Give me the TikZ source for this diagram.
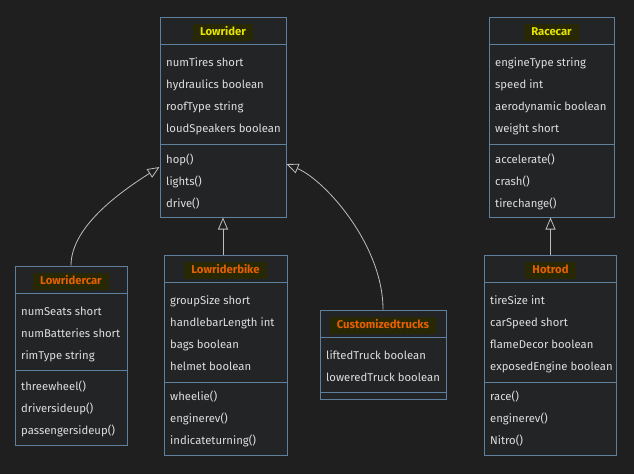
\documentclass[tikz,border=0pt]{standalone}
\usepackage{fontspec}
\setmainfont{Fira Sans}
\usetikzlibrary{arrows.meta}
\definecolor{bgdark}{RGB}{31,31,31}
\definecolor{boxfill}{RGB}{34,36,37}
\definecolor{boxline}{RGB}{94,128,158}
\definecolor{rowtext}{RGB}{222,222,222}
\definecolor{titleyellow}{RGB}{228,228,0}
\definecolor{titleorange}{RGB}{228,96,0}
\definecolor{titlehl}{RGB}{40,40,4}
\definecolor{edgegray}{RGB}{190,190,190}
\tikzset{
  classbox/.style={draw=boxline, fill=boxfill, line width=1pt, inner sep=0pt},
  sepline/.style={draw=boxline, line width=1pt},
  classtitle/.style={fill=titlehl, font=\fontsize{11.3}{13}\selectfont\bfseries, inner xsep=7pt, inner ysep=3pt,
    text height=8.5pt, text depth=2.5pt},
  member/.style={anchor=west, text=rowtext, font=\fontsize{11.3}{13}\selectfont, inner sep=0pt,
    text height=8.5pt, text depth=2.5pt},
  inherit/.style={draw=edgegray, line width=0.8pt, -{Triangle[open, length=12pt, width=10pt]}}
}
\begin{document}
\begin{tikzpicture}[x=1pt, y=-1pt]
  \useasboundingbox (0,0) rectangle (634,474);
  \fill[bgdark] (0,0) rectangle (634,474);
  % class boxes
  \node[classbox, minimum width=126pt, minimum height=200pt] (lowrider) at (223,117) {};
  \node[classbox, minimum width=125pt, minimum height=200pt] (racecar) at (551.5,117) {};
  \node[classbox, minimum width=112pt, minimum height=179pt] (lowridercar) at (71,355.5) {};
  \node[classbox, minimum width=123pt, minimum height=200pt] (lowriderbike) at (225.5,355) {};
  \node[classbox, minimum width=126pt, minimum height=89pt] (customtrucks) at (383,354.5) {};
  \node[classbox, minimum width=132pt, minimum height=200pt] (hotrod) at (550.5,355) {};
  % separators
  \foreach \cls/\ya/\yb in {lowrider/44.5/144.5, racecar/44.5/144.5, lowridercar/293.5/370,
      lowriderbike/282.5/382.5, customtrucks/337.5/392.5, hotrod/282.5/382.5}{
    \draw[sepline] (\cls.west |- 0,\ya) -- (\cls.east |- 0,\ya);
    \draw[sepline] (\cls.west |- 0,\yb) -- (\cls.east |- 0,\yb);
  }
  % titles
  \node[classtitle, text=titleyellow] (lowrider-t) at (223,32) {Lowrider};
  \node[classtitle, text=titleyellow] (racecar-t) at (551.5,32) {Racecar};
  \node[classtitle, text=titleorange] (lowridercar-t) at (71,281) {Lowridercar};
  \node[classtitle, text=titleorange] (lowriderbike-t) at (225.5,270) {Lowriderbike};
  \node[classtitle, text=titleorange] (customtrucks-t) at (383,325) {Customizedtrucks};
  \node[classtitle, text=titleorange] (hotrod-t) at (550.5,270) {Hotrod};
  % Lowrider members
  \foreach \txt [count=\i] in {numTires short, hydraulics boolean, roofType string, loudSpeakers boolean}
    \node[member] (lowrider-a\i) at (166,41+22*\i) {\txt};
  \foreach \txt [count=\i] in {hop(), lights(), drive()}
    \node[member] (lowrider-m\i) at (166,138+22*\i) {\txt};
  % Racecar members
  \foreach \txt [count=\i] in {engineType string, speed int, aerodynamic boolean, weight short}
    \node[member] (racecar-a\i) at (495,41+22*\i) {\txt};
  \foreach \txt [count=\i] in {accelerate(), crash(), tirechange()}
    \node[member] (racecar-m\i) at (495,138+22*\i) {\txt};
  % Lowridercar members
  \foreach \txt [count=\i] in {numSeats short, numBatteries short, rimType string}
    \node[member] (lowridercar-a\i) at (21,290+22*\i) {\txt};
  \foreach \txt [count=\i] in {threewheel(), driversideup(), passengersideup()}
    \node[member] (lowridercar-m\i) at (21,365+22*\i) {\txt};
  % Lowriderbike members
  \foreach \txt [count=\i] in {groupSize short, handlebarLength int, bags boolean, helmet boolean}
    \node[member] (lowriderbike-a\i) at (170,279+22*\i) {\txt};
  \foreach \txt [count=\i] in {wheelie(), enginerev(), indicateturning()}
    \node[member] (lowriderbike-m\i) at (170,375+22*\i) {\txt};
  % Customizedtrucks members
  \foreach \txt [count=\i] in {liftedTruck boolean, loweredTruck boolean}
    \node[member] (customtrucks-a\i) at (326,334+22*\i) {\txt};
  % Hotrod members
  \foreach \txt [count=\i] in {tireSize int, carSpeed short, flameDecor boolean, exposedEngine boolean}
    \node[member] (hotrod-a\i) at (490,279+22*\i) {\txt};
  \foreach \txt [count=\i] in {race(), enginerev(), Nitro()}
    \node[member] (hotrod-m\i) at (490,375+22*\i) {\txt};
  % inheritance
  \coordinate (lowrider-in-l) at (lowrider.west |- 0,167);
  \coordinate (lowrider-in-r) at (lowrider.east |- 0,164);
  \draw[inherit] (lowridercar.north) .. controls (71,225) and (125,189) .. (lowrider-in-l);
  \draw[inherit] (lowrider.south |- lowriderbike.north) -- (lowrider.south);
  \draw[inherit] (customtrucks.north) .. controls (383,245) and (325,180) .. (lowrider-in-r);
  \draw[inherit] (hotrod.north) -- (hotrod.north |- racecar.south);
\end{tikzpicture}
\end{document}
